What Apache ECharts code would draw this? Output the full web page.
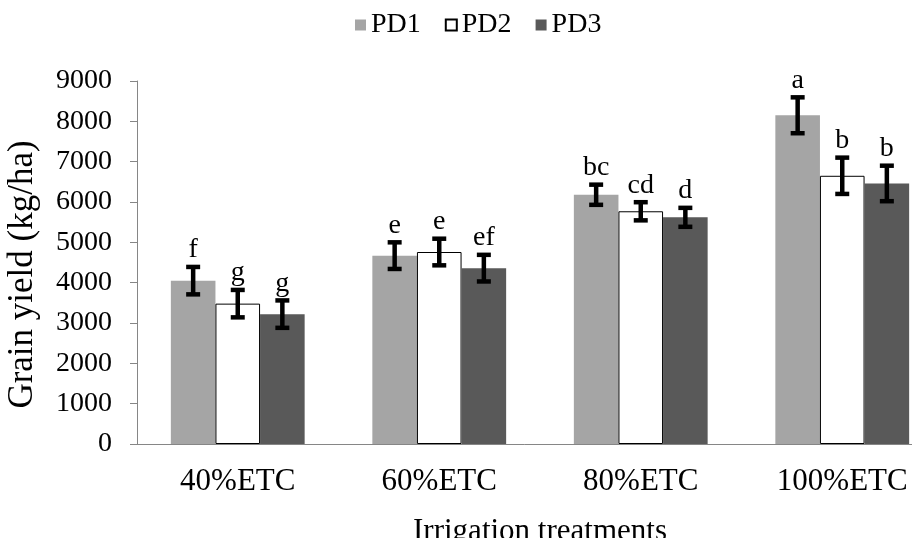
<!DOCTYPE html>
<html>
<head>
<meta charset="utf-8">
<script src="https://cdn.jsdelivr.net/npm/echarts@6/dist/echarts.min.js"></script>
<style>html,body{margin:0;padding:0;background:#fff;}#c{width:912px;height:538px;}</style>
</head>
<body>
<div id="c"></div>
<script>
const categories = ['40%ETC', '60%ETC', '80%ETC', '100%ETC'];
const seriesNames = ['PD1', 'PD2', 'PD3'];
const pd1 = [4050, 4670, 6180, 8150];
const pd2 = [3480, 4760, 5770, 6650];
const pd3 = [3220, 4360, 5620, 6460];
const pd1Err = [340, 330, 250, 445];
const pd2Err = [340, 330, 225, 450];
const pd3Err = [340, 330, 235, 440];
const pd1Letters = ['f', 'e', 'bc', 'a'];
const pd2Letters = ['g', 'e', 'cd', 'b'];
const pd3Letters = ['g', 'ef', 'd', 'b'];
const yTicks = [0, 1000, 2000, 3000, 4000, 5000, 6000, 7000, 8000, 9000];

const FONT = '"Liberation Serif", "Times New Roman", serif';
const colors = ['#a5a5a5', '#ffffff', '#595959'];
const values = [pd1, pd2, pd3];
const errs = [pd1Err, pd2Err, pd3Err];
const letters = [pd1Letters, pd2Letters, pd3Letters];
const GAP = 0.336;

const chart = echarts.init(document.getElementById('c'));

const barSeries = seriesNames.map((n, i) => ({
  name: n,
  type: 'bar',
  data: values[i],
  barGap: '0%',
  barCategoryGap: (GAP * 100) + '%',
  itemStyle: i === 1 ? { color: '#ffffff', borderColor: '#000000', borderWidth: 1 } : { color: colors[i] },
  z: 2
}));

const errSeries = seriesNames.map((n, i) => ({
  name: n + '_err',
  type: 'custom',
  z: 5,
  data: values[i].map((v, k) => [k, v, errs[i][k]]),
  encode: { x: 0, y: 1 },
  renderItem: function (params, api) {
    const k = api.value(0);
    const v = api.value(1);
    const e = api.value(2);
    const lab = letters[i][params.dataIndex];
    const band = api.size([1, 0])[0];
    const bw = band * (1 - GAP) / 3;
    const off = (i - 1) * bw;
    const hi = api.coord([k, v + e]);
    const lo = api.coord([k, v - e]);
    const x = hi[0] + off;
    const cw = 7;
    const st = { stroke: '#000', lineWidth: 4.5 };
    return {
      type: 'group',
      children: [
        { type: 'line', shape: { x1: x, y1: hi[1], x2: x, y2: lo[1] }, style: st },
        { type: 'line', shape: { x1: x - cw, y1: hi[1], x2: x + cw, y2: hi[1] }, style: st },
        { type: 'line', shape: { x1: x - cw, y1: lo[1], x2: x + cw, y2: lo[1] }, style: st },
        { type: 'text', x: x, y: hi[1] - 3, style: { text: lab, fill: '#000', font: '28px ' + FONT, align: 'center', verticalAlign: 'bottom' } }
      ]
    };
  }
}));

chart.setOption({
  animation: false,
  backgroundColor: '#ffffff',
  legend: {
    data: seriesNames,
    left: 350,
    top: 6,
    icon: 'rect',
    itemWidth: 11,
    itemHeight: 11,
    itemGap: 24,
    textStyle: { fontFamily: FONT, fontSize: 28, color: '#000' }
  },
  grid: { left: 137, right: -31, top: 81, bottom: 94, outerBoundsMode: 'none', containLabel: false },
  xAxis: {
    type: 'category',
    data: categories,
    boundaryGap: true,
    name: 'Irrigation treatments',
    nameLocation: 'middle',
    nameGap: 72,
    nameTextStyle: { fontFamily: FONT, fontSize: 31, color: '#000' },
    axisLine: { lineStyle: { color: '#868686', width: 1 } },
    axisTick: { alignWithLabel: false, length: 8, lineStyle: { color: '#868686' } },
    axisLabel: { fontFamily: FONT, fontSize: 31, color: '#000', margin: 22 }
  },
  yAxis: {
    type: 'value',
    min: 0,
    max: 9000,
    interval: 1000,
    name: 'Grain yield (kg/ha)',
    nameLocation: 'middle',
    nameGap: 97,
    nameTextStyle: { fontFamily: FONT, fontSize: 35, color: '#000', padding: [0, 24, 0, 0] },
    splitLine: { show: false },
    axisLine: { show: true, lineStyle: { color: '#868686', width: 1 } },
    axisTick: { show: true, length: 7, lineStyle: { color: '#868686' } },
    axisLabel: {
      fontFamily: FONT, fontSize: 28, color: '#000', margin: 25,
      formatter: function (val) { return yTicks.indexOf(val) >= 0 ? String(val) : ''; }
    }
  },
  series: barSeries.concat(errSeries)
});
</script>
</body>
</html>
